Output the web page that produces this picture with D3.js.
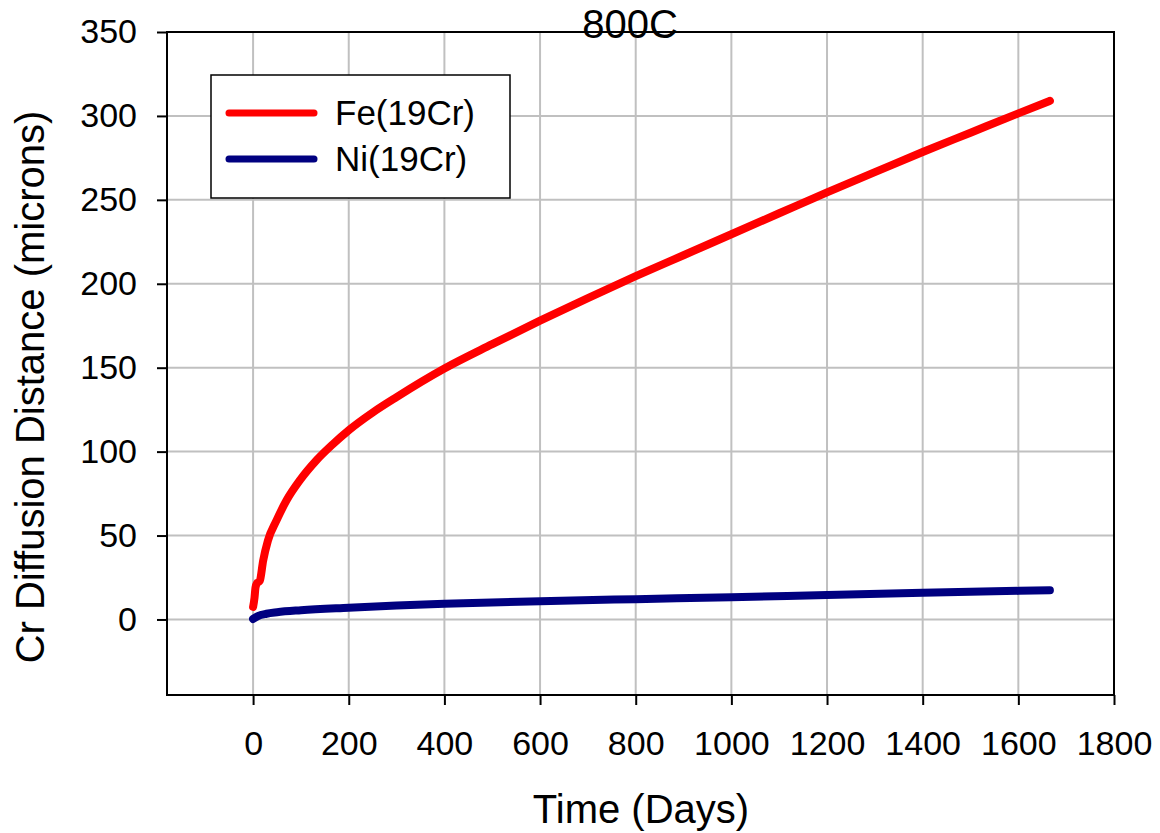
<html>
<head>
    <title>800C</title>
    <script src="https://d3js.org/d3.v7.min.js"></script>
</head>
<style>
    body { margin: 0; background: #fff; }
    text { font-family: "Liberation Sans", Arial, sans-serif; fill: #000; }
    .grid line { stroke: #c0c0c0; stroke-width: 2px; }
    .series { fill: none; stroke-width: 8px; stroke-linecap: round; stroke-linejoin: round; }
</style>
<body>
<script>
    // data (days, microns)
    let feDays  = [0, 3, 5, 8, 14, 21, 31, 49, 70, 98, 133, 167, 201, 251, 300, 400, 500, 600, 700, 800, 900, 1000, 1100, 1200, 1300, 1400, 1500, 1600, 1666];
    let feDist  = [7.5, 13, 19, 21.5, 23, 35, 47, 59, 71, 83, 95, 104.5, 113, 123.5, 132.5, 149.5, 164, 178, 191.5, 204.5, 217, 229.5, 242, 254.5, 266.5, 278.5, 290, 301.5, 309];
    let niDays  = [0, 10, 28, 50, 100, 200, 300, 400, 600, 800, 1000, 1200, 1400, 1666];
    let niDist  = [0.3, 2, 3.4, 4.3, 5.5, 7, 8.3, 9.4, 10.9, 12.1, 13.3, 14.6, 15.9, 17.4];
    let seriesNames = ["Fe(19Cr)", "Ni(19Cr)"];
    let seriesColors = ["#ff0000", "#000080"];
    let xTicks = [0, 200, 400, 600, 800, 1000, 1200, 1400, 1600, 1800];
    let yTicks = [0, 50, 100, 150, 200, 250, 300, 350];

    let svgwidth = 1160, svgheight = 833;
    let margin = {top: 32, right: 46, bottom: 138, left: 167};

    let x = d3.scaleLinear().domain([-180, 1800]).range([margin.left, svgwidth - margin.right]);
    let y = d3.scaleLinear().domain([-45, 350]).range([svgheight - margin.bottom, margin.top]);

    let svg = d3.select("body").append("svg")
        .attr("width", svgwidth)
        .attr("height", svgheight);

    // grid
    let grid = svg.append("g").attr("class", "grid");
    grid.selectAll(".vx").data(xTicks).enter().append("line")
        .attr("x1", d => x(d)).attr("x2", d => x(d))
        .attr("y1", y.range()[0]).attr("y2", y.range()[1]);
    grid.selectAll(".hy").data(yTicks).enter().append("line")
        .attr("x1", x.range()[0]).attr("x2", x.range()[1])
        .attr("y1", d => y(d)).attr("y2", d => y(d));

    // axes
    let xAxis = svg.append("g")
        .attr("transform", "translate(0," + y.range()[0] + ")")
        .call(d3.axisBottom(x).tickValues(xTicks).tickFormat(d3.format("d"))
            .tickSize(10).tickPadding(26).tickSizeOuter(0));
    let yAxis = svg.append("g")
        .attr("transform", "translate(" + x.range()[0] + ",0)")
        .call(d3.axisLeft(y).tickValues(yTicks).tickFormat(d3.format("d"))
            .tickSize(10).tickPadding(20).tickSizeOuter(0));
    [xAxis, yAxis].forEach(function (a) {
        a.select(".domain").remove();
        a.selectAll(".tick line").attr("stroke", "#000").attr("stroke-width", 2);
        a.selectAll(".tick text")
            .style("font-family", '"Liberation Sans", Arial, sans-serif')
            .style("font-size", "34px");
    });

    // frame
    svg.append("rect")
        .attr("x", x.range()[0]).attr("y", y.range()[1])
        .attr("width", x.range()[1] - x.range()[0])
        .attr("height", y.range()[0] - y.range()[1])
        .attr("fill", "none").attr("stroke", "#000").attr("stroke-width", 2);

    // lines
    let line = d3.line()
        .x(d => x(d[0]))
        .y(d => y(d[1]))
        .curve(d3.curveMonotoneX);

    let series = [
        d3.zip(feDays, feDist),
        d3.zip(niDays, niDist)
    ];
    svg.selectAll(".series").data(series).enter().append("path")
        .attr("class", "series")
        .attr("stroke", (d, i) => seriesColors[i])
        .attr("d", line);

    // legend
    let legend = svg.append("g");
    legend.append("rect")
        .attr("x", 211).attr("y", 75).attr("width", 299).attr("height", 123)
        .attr("fill", "#fff").attr("stroke", "#000").attr("stroke-width", 1.5);
    seriesNames.forEach(function (name, i) {
        let ly = 113 + i * 46;
        legend.append("line")
            .attr("x1", 229).attr("x2", 314)
            .attr("y1", ly).attr("y2", ly)
            .attr("stroke", seriesColors[i])
            .attr("stroke-width", 7)
            .attr("stroke-linecap", "round");
        legend.append("text")
            .attr("x", 335).attr("y", ly + 12)
            .style("font-size", "35px")
            .text(name);
    });

    // titles
    svg.append("text")
        .attr("x", 630).attr("y", 38)
        .attr("text-anchor", "middle")
        .style("font-size", "40px")
        .text("800C");

    svg.append("text")
        .attr("x", 641).attr("y", 823)
        .attr("text-anchor", "middle")
        .style("font-size", "40px")
        .text("Time (Days)");

    svg.append("text")
        .attr("transform", "translate(44,387) rotate(-90)")
        .attr("text-anchor", "middle")
        .style("font-size", "40px")
        .text("Cr Diffusion Distance (microns)");
</script>
</body>
</html>
